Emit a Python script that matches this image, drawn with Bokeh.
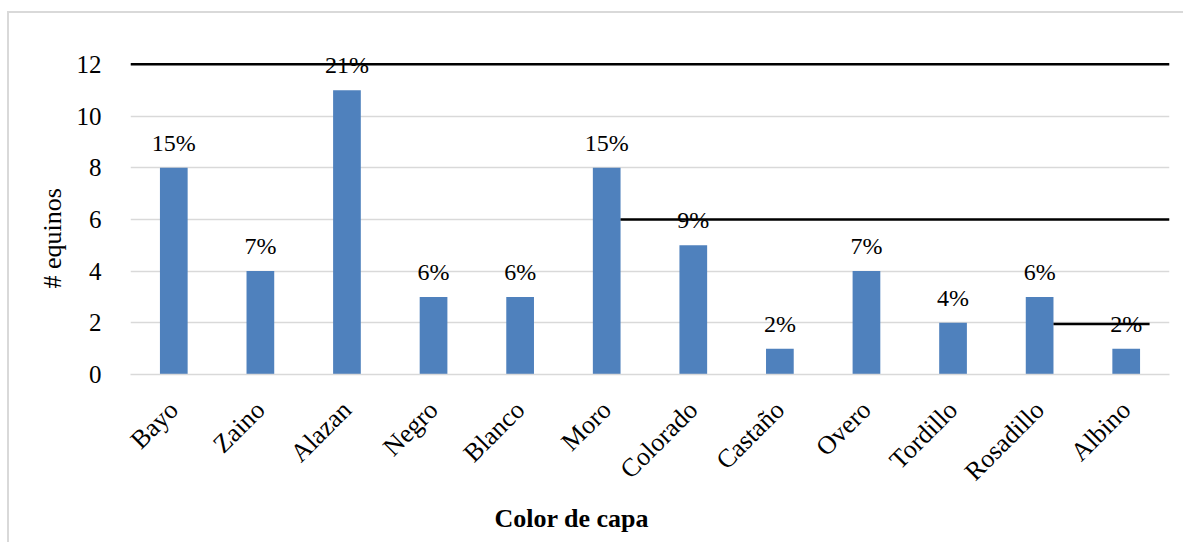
import math

from bokeh.core.properties import value
from bokeh.embed import file_html
from bokeh.resources import INLINE
from bokeh.plotting import figure
from bokeh.models import (ColumnDataSource, FactorRange, Range1d, LabelSet,
                          Title, FixedTicker)

# Coat colour of the horses counted
categories = ["Bayo", "Zaino", "Alazan", "Negro", "Blanco", "Moro",
              "Colorado", "Castaño", "Overo", "Tordillo", "Rosadillo", "Albino"]
counts = [8, 4, 11, 3, 3, 8, 5, 1, 4, 2, 3, 1]
shares = ["15%", "7%", "21%", "6%", "6%", "15%", "9%", "2%", "7%", "4%", "6%", "2%"]
y_ticks = [0, 2, 4, 6, 8, 10, 12]

# Stray black rules on the chart: level, start and end (category + offset)
rule_levels = [12, 6, 1.95]
rule_start = [("Bayo", -0.5), ("Moro", 0.16), ("Rosadillo", 0.16)]
rule_end = [("Albino", 0.5), ("Albino", 0.5), ("Albino", 0.27)]

SERIF = "Liberation Serif"
BLUE = "#4f81bd"
GRID = "#d9d9d9"

src = ColumnDataSource(dict(cat=categories, n=counts, pct=shares))
rules = ColumnDataSource(dict(x0=rule_start, x1=rule_end, y=rule_levels))

p = figure(
    width=1176, height=531,
    x_range=FactorRange(*categories),
    y_range=Range1d(0, 13),
    output_backend="svg", toolbar_location=None,
    min_border_left=121, min_border_right=16,
    min_border_top=25, min_border_bottom=170,
    outline_line_color=None,
    styles={"margin-left": "7px", "margin-top": "11px",
            "border-left": f"2px solid {GRID}",
            "border-top": f"2px solid {GRID}"},
)

p.vbar(x="cat", top="n", width=0.32, source=src,
       fill_color=BLUE, line_color=None)

p.segment(x0="x0", y0="y", x1="x1", y1="y", source=rules,
          line_color="black", line_width=2.5)

p.add_layout(LabelSet(x="cat", y="n", text="pct", source=src,
                      y_offset=17, text_align="center",
                      text_baseline="alphabetic", text_font=value(SERIF),
                      text_font_size="24px", text_color="black"))

# Axes
p.xgrid.grid_line_color = None
p.ygrid.grid_line_color = GRID
p.ygrid.grid_line_width = 1.5
p.yaxis.ticker = FixedTicker(ticks=y_ticks)

for ax in (p.xaxis[0], p.yaxis[0]):
    ax.major_tick_line_color = None
    ax.minor_tick_line_color = None
    ax.major_label_text_font = SERIF
    ax.major_label_text_color = "black"

p.yaxis.major_label_text_font_size = "25px"
p.yaxis.axis_line_color = None
p.yaxis.major_label_standoff = 23
p.xaxis.major_label_text_font_size = "26px"
p.xaxis.axis_line_color = GRID
p.xaxis.axis_line_width = 1.5
p.xaxis.major_label_orientation = math.pi / 4
p.xaxis.major_label_standoff = 25

# Axis titles
p.add_layout(Title(text="Color de capa", align="left", offset=364,
                   text_font=SERIF, text_font_size="26px",
                   text_font_style="bold", text_color="black",
                   standoff=4), "below")
p.add_layout(Title(text="# equinos", align="left", offset=86,
                   text_font=SERIF, text_font_size="26px",
                   text_font_style="normal", text_color="black",
                   standoff=13), "left")

open("out.html", "w").write(file_html(p, INLINE))
